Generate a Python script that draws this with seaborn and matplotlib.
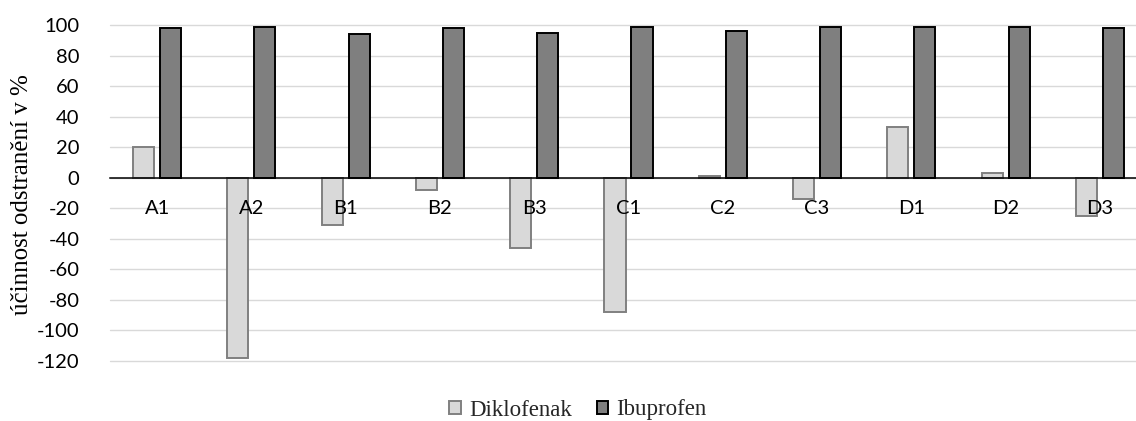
import matplotlib
matplotlib.use("Agg")
import matplotlib.pyplot as plt
import seaborn as sns
import pandas as pd

# Removal efficiency per sample and compound
samples = ["A1", "A2", "B1", "B2", "B3", "C1", "C2", "C3", "D1", "D2", "D3"]
diklofenak = [20, -118, -31, -8, -46, -88, 1, -14, 33, 3, -25]
ibuprofen = [98, 99, 94, 98, 95, 99, 96, 99, 99, 99, 98]
compounds = ["Diklofenak", "Ibuprofen"]
y_ticks = [-120, -100, -80, -60, -40, -20, 0, 20, 40, 60, 80, 100]

df = pd.DataFrame({
    "vzorek": samples * 2,
    "latka": [compounds[0]] * len(samples) + [compounds[1]] * len(samples),
    "ucinnost": diklofenak + ibuprofen,
})

sns.set_theme(style="white")
plt.rcParams["font.family"] = ["Lato", "DejaVu Sans"]

fills = {"Diklofenak": "#d9d9d9", "Ibuprofen": "#7f7f7f"}
edges = {"Diklofenak": "#808080", "Ibuprofen": "#000000"}

fig = plt.figure(figsize=(11.36, 4.21), dpi=100)
ax = fig.add_axes([110 / 1136, 60 / 421, 1037 / 1136, 336 / 421])

sns.barplot(data=df, x="vzorek", y="ucinnost", hue="latka", order=samples,
            hue_order=compounds, palette=fills, width=0.573, gap=0.22,
            linewidth=1.4, ax=ax, legend=False, zorder=2)

for cont, name in zip(ax.containers, compounds):
    for bar in cont:
        bar.set_edgecolor(edges[name])

ax.set_ylim(-120, 100)
ax.set_xlim(-0.5, len(samples) - 0.5)
ax.set_yticks(y_ticks)
ax.set_yticklabels([str(v) for v in y_ticks])

# horizontal gridlines behind bars
ax.yaxis.grid(True, color="#d9d9d9", linewidth=1.0)
for gl in ax.get_ygridlines():
    gl.set_clip_on(False)
ax.set_axisbelow(True)
ax.xaxis.set_zorder(5)

for side in ["left", "right", "top"]:
    ax.spines[side].set_visible(False)
ax.spines["bottom"].set_position(("data", 0))
ax.spines["bottom"].set_color("black")
ax.spines["bottom"].set_linewidth(1.1)
ax.spines["bottom"].set_zorder(3)

ax.tick_params(axis="x", length=0, pad=16, labelsize=14.5, labelcolor="black")
ax.tick_params(axis="y", length=0, pad=22, labelsize=14.5, labelcolor="black")
ax.set_xlabel("")
ax.set_ylabel("účinnost odstranění v %", family="Liberation Serif", fontsize=18,
              color="black")
ax.yaxis.set_label_coords(-0.074, 0.494)

handles = [cont.patches[0] for cont in ax.containers]
fig.legend(handles, compounds, loc="center", bbox_to_anchor=(578 / 1136, 1 - 410 / 421),
           ncol=2, frameon=False, prop={"family": "Liberation Serif", "size": 16.5},
           handlelength=0.5, handleheight=0.5, handletextpad=0.35, columnspacing=1.1,
           borderaxespad=0, borderpad=0)

fig.savefig("out.png", dpi=100)
